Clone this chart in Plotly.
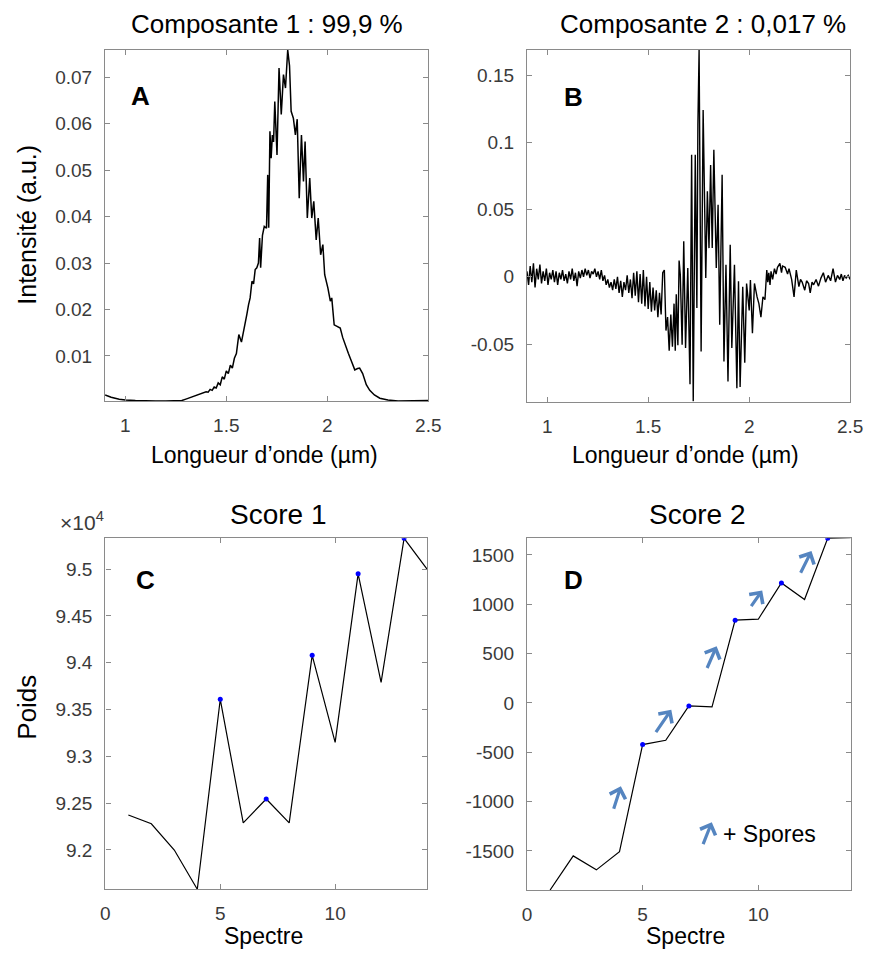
import plotly.graph_objects as go

# ---- Panel A : composante 1 (loading spectrum)
wl_a = [0.900, 0.93, 0.97, 1.00, 1.05, 1.10, 1.15, 1.20, 1.25, 1.28, 1.30, 1.33, 1.36, 1.38,
        1.40, 1.41, 1.42, 1.43, 1.44, 1.45, 1.46, 1.47, 1.48, 1.49, 1.50, 1.51, 1.52, 1.53,
        1.54, 1.55, 1.562, 1.575, 1.585, 1.594, 1.602, 1.610, 1.618, 1.627, 1.635, 1.643,
        1.651, 1.659, 1.665, 1.670, 1.679, 1.688, 1.699, 1.705, 1.710, 1.716, 1.722, 1.728,
        1.734, 1.740, 1.751, 1.761, 1.772, 1.783, 1.793, 1.804, 1.813, 1.821, 1.832, 1.842,
        1.851, 1.861, 1.872, 1.882, 1.890, 1.901, 1.913, 1.923, 1.933, 1.945, 1.955, 1.967,
        1.978, 1.987, 1.995, 2.003, 2.015, 2.022, 2.034, 2.050, 2.064, 2.076, 2.088, 2.104,
        2.12, 2.136, 2.15, 2.16, 2.175, 2.193, 2.21, 2.233, 2.26, 2.30, 2.35, 2.40, 2.45, 2.50]
comp1 = [0.0016, 0.0011, 0.0007, 0.0005, 0.0004, 0.0003, 0.0003, 0.0003, 0.0003, 0.0004, 0.0007,
         0.0012, 0.0016, 0.0019, 0.0023, 0.0022, 0.0028, 0.0026, 0.0033, 0.0031, 0.0042, 0.0038,
         0.0055, 0.0050, 0.0068, 0.0062, 0.0080, 0.0074, 0.0095, 0.0105, 0.0146, 0.0130, 0.0150,
         0.0167, 0.0190, 0.0210, 0.0225, 0.0261, 0.0255, 0.0286, 0.0290, 0.0300, 0.0354, 0.0290,
         0.0360, 0.0379, 0.0375, 0.0490, 0.0376, 0.0584, 0.0526, 0.0576, 0.0561, 0.0648, 0.0533,
         0.0720, 0.0620, 0.0706, 0.0677, 0.0759, 0.0725, 0.0627, 0.0612, 0.0576, 0.0610, 0.0440,
         0.0576, 0.0476, 0.0562, 0.0397, 0.0483, 0.0397, 0.0433, 0.0350, 0.0397, 0.0318, 0.0340,
         0.0275, 0.0262, 0.0246, 0.0218, 0.0225, 0.0167, 0.0163, 0.0160, 0.0140, 0.0124, 0.0106,
         0.0088, 0.0070, 0.0073, 0.0074, 0.0062, 0.0038, 0.0026, 0.0016, 0.0009, 0.0005, 0.0003,
         0.0003, 0.0003, 0.0004]

# ---- Panel B : composante 2
wl_b = [0.900, 0.908, 0.916, 0.924, 0.932, 0.940, 0.948, 0.956, 0.964, 0.972, 0.980, 0.988,
        0.996, 1.004, 1.012, 1.020, 1.028, 1.036, 1.044, 1.052, 1.060, 1.068, 1.076, 1.084,
        1.092, 1.100, 1.108, 1.116, 1.124, 1.132, 1.140, 1.148, 1.156, 1.164, 1.172, 1.180,
        1.188, 1.196, 1.204, 1.212, 1.220, 1.228, 1.236, 1.244, 1.252, 1.260, 1.268, 1.276,
        1.284, 1.292, 1.300, 1.308, 1.316, 1.324, 1.332, 1.340, 1.348, 1.356, 1.364, 1.372,
        1.380, 1.388, 1.396, 1.404, 1.412, 1.420, 1.428, 1.436, 1.444, 1.452, 1.460, 1.468,
        1.476, 1.484, 1.492, 1.500, 1.508, 1.516, 1.524, 1.532, 1.540, 1.548, 1.556, 1.564,
        1.572, 1.580, 1.588, 1.596, 1.604, 1.612, 1.620, 1.628, 1.634, 1.639, 1.647, 1.653,
        1.659, 1.668, 1.676, 1.685, 1.696, 1.707, 1.715, 1.723, 1.733, 1.741, 1.746, 1.752,
        1.762, 1.772, 1.785, 1.793, 1.801, 1.809, 1.817, 1.825, 1.837, 1.846, 1.854, 1.866,
        1.875, 1.885, 1.895, 1.906, 1.914, 1.927, 1.939, 1.947, 1.955, 1.968, 1.978, 1.987,
        2.000, 2.006, 2.016, 2.026, 2.039, 2.048, 2.058, 2.068, 2.078, 2.087, 2.092, 2.097,
        2.103, 2.108, 2.116, 2.125, 2.133, 2.140, 2.152, 2.160, 2.165, 2.178, 2.190, 2.197,
        2.210, 2.222, 2.233, 2.246, 2.254, 2.262, 2.275, 2.284, 2.294, 2.302, 2.311, 2.319,
        2.331, 2.343, 2.355, 2.367, 2.378, 2.391, 2.403, 2.415, 2.427, 2.437, 2.448, 2.456,
        2.464, 2.472, 2.480, 2.490, 2.500]
comp2 = [0.004, -0.006, 0.008, -0.004, 0.010, -0.008, 0.006, -0.002, 0.009, -0.005, 0.004, -0.003,
         0.006, -0.006, 0.003, -0.002, 0.005, -0.004, 0.004, -0.006, 0.003, -0.002, 0.005, -0.003,
         0.002, -0.005, 0.004, -0.002, 0.006, -0.003, 0.003, -0.007, 0.004, -0.001, 0.005, 0.000,
         0.006, 0.001, 0.005, -0.001, 0.004, 0.002, 0.006, 0.000, 0.004, -0.002, 0.005, -0.003,
         0.001, -0.006, -0.002, -0.008, -0.004, -0.010, -0.002, -0.009, 0.000, -0.012, -0.003, -0.015,
         -0.004, -0.010, 0.001, -0.012, -0.002, -0.016, 0.003, -0.014, 0.004, -0.019, 0.002, -0.020,
         0.005, -0.022, 0.000, -0.024, -0.004, -0.026, -0.008, -0.025, -0.010, -0.030, -0.012, -0.028,
         0.003, 0.005, -0.040, -0.030, -0.055, -0.028, -0.052, -0.020, -0.055, -0.013, -0.051, 0.012,
         0.0015, -0.0506, 0.0263, -0.053, 0.0065, -0.080, 0.0907, -0.0926, 0.0907, -0.0233, 0.113, 0.1687,
         -0.0555, 0.124, -0.001, 0.0635, 0.0213, 0.083, 0.0213, 0.0944, 0.0065, 0.0535, -0.0357, 0.0758,
         -0.063, 0.0089, -0.0778, 0.0238, -0.053, 0.0089, -0.0828, -0.0034, -0.082, -0.0074, -0.064, -0.005,
         -0.025, -0.0025, -0.042, -0.005, -0.015, -0.020, -0.030, -0.015, -0.017, 0.005, -0.004, 0.003,
         -0.006, 0.004, -0.002, 0.006, 0.002, 0.007, 0.010, 0.003, 0.008, 0.007, 0.002, 0.006,
         -0.002, -0.015, 0.005, -0.0074, -0.002, -0.004, -0.010, -0.003, -0.005, -0.012, -0.004, -0.006,
         -0.002, -0.007, -0.001, 0.003, -0.004, 0.001, -0.003, 0.006, -0.004, 0.001, -0.002, 0.002,
         -0.003, 0.001, -0.001, 0.001, -0.002]

# ---- Panels C / D : scores
spectre = list(range(1, 15))
score1 = [92374, 92280, 92000, 91580, 93610, 92290, 92545, 92290, 94080, 93150, 94950, 93790, 95330, 95000]
score2 = [-1896, -1550, -1692, -1507, -422, -378, -30, -40, 839, 849, 1217, 1049, 1669, 1675]
marked = [5, 7, 9, 11, 13]

# arrows in panel D (tail -> head, data coords)
arrow_tail_x = [3.73, 5.53, 7.76, 9.65, 11.8]
arrow_tail_y = [-1088, -311, 339, 966, 1304]
arrow_head_x = [4.06, 6.24, 8.20, 10.17, 12.3]
arrow_head_y = [-845, -68, 575, 1141, 1540]

# ticks
wl_ticks = [1, 1.5, 2, 2.5]
wl_ticktext = ['1', '1.5', '2', '2.5']
a_ticks = [0.01, 0.02, 0.03, 0.04, 0.05, 0.06, 0.07]
a_ticktext = ['0.01', '0.02', '0.03', '0.04', '0.05', '0.06', '0.07']
b_ticks = [-0.05, 0, 0.05, 0.1, 0.15]
b_ticktext = ['-0.05', '0', '0.05', '0.1', '0.15']
sp_ticks = [0, 5, 10]
c_ticks = [92000, 92500, 93000, 93500, 94000, 94500, 95000]
c_ticktext = ['9.2', '9.25', '9.3', '9.35', '9.4', '9.45', '9.5']
d_ticks = [-1500, -1000, -500, 0, 500, 1000, 1500]
d_ticktext = ['-1500', '-1000', '-500', '0', '500', '1000', '1500']

W, H = 880, 953
OFF = 8  # the page body adds an 8px margin, so positions are shifted back
FONT = 'Liberation Sans, Arial, sans-serif'
BOX = '#8a8a8a'
TICKC = '#3a3a3a'
ARROW = '#5585c0'


def px(x):
    return (x - OFF) / W


def py(y):
    return 1 - (y - OFF) / H


def ax_style(domain, anchor, tickvals, ticktext, rng, is_y=False):
    return dict(domain=domain, anchor=anchor, range=rng, tickvals=tickvals, ticktext=ticktext,
                showline=True, mirror='allticks', linecolor=BOX, linewidth=1.3,
                ticks='inside', ticklen=5, tickcolor=BOX, tickwidth=1,
                showgrid=False, zeroline=False, ticklabelstandoff=8 if is_y else 7,
                tickfont=dict(family=FONT, size=19, color=TICKC))


fig = go.Figure()
fig.add_trace(go.Scatter(x=wl_a, y=comp1, mode='lines', line=dict(color='black', width=1.5),
                         xaxis='x', yaxis='y'))
fig.add_trace(go.Scatter(x=wl_b, y=comp2, mode='lines', line=dict(color='black', width=1.4),
                         xaxis='x2', yaxis='y2'))
fig.add_trace(go.Scatter(x=spectre, y=score1, mode='lines', line=dict(color='black', width=1.2),
                         xaxis='x3', yaxis='y3'))
fig.add_trace(go.Scatter(x=marked, y=[score1[i - 1] for i in marked], mode='markers',
                         marker=dict(color='#0000ff', size=5), xaxis='x3', yaxis='y3'))
fig.add_trace(go.Scatter(x=spectre, y=score2, mode='lines', line=dict(color='black', width=1.2),
                         xaxis='x4', yaxis='y4'))
fig.add_trace(go.Scatter(x=marked, y=[score2[i - 1] for i in marked], mode='markers',
                         marker=dict(color='#0000ff', size=5), xaxis='x4', yaxis='y4'))

fig.update_layout(
    width=W, height=H, showlegend=False,
    margin=dict(l=0, r=0, t=0, b=0),
    paper_bgcolor='white', plot_bgcolor='white',
    font=dict(family=FONT, color='black'),
    xaxis=ax_style([px(102), px(432)], 'y', wl_ticks, wl_ticktext, [0.9, 2.5]),
    yaxis=ax_style([py(401), py(50)], 'x', a_ticks, a_ticktext, [0.0003, 0.0759], True),
    xaxis2=ax_style([px(532.7), px(862.7)], 'y2', wl_ticks, wl_ticktext, [0.9, 2.5]),
    yaxis2=ax_style([py(401.7), py(50)], 'x2', b_ticks, b_ticktext, [-0.0929, 0.1686], True),
    xaxis3=ax_style([px(102.3), px(430.7)], 'y3', sp_ticks, None, [0, 14]),
    yaxis3=ax_style([py(889.3), py(538.3)], 'x3', c_ticks, c_ticktext, [91580, 95330], True),
    xaxis4=ax_style([px(532.7), px(863.3)], 'y4', sp_ticks, None, [0, 14]),
    yaxis4=ax_style([py(890), py(538.3)], 'x4', d_ticks, d_ticktext, [-1896, 1669], True),
)

ann = []
# titles
for txt, x, y, s in [('Composante 1 : 99,9 %', 267, 24, 26), ('Composante 2 : 0,017 %', 712, 24, 26),
                     ('Score 1', 279, 514, 28), ('Score 2', 707, 514, 28)]:
    ann.append(dict(text=txt, x=px(x), y=py(y), xref='paper', yref='paper', showarrow=False,
                    xanchor='center', yanchor='middle', font=dict(size=s, color='black')))
# axis labels
for txt, x, y in [('Longueur d\u2019onde (\u00b5m)', 265, 455), ('Longueur d\u2019onde (\u00b5m)', 695, 455),
                  ('Spectre', 264, 936), ('Spectre', 695, 936)]:
    ann.append(dict(text=txt, x=px(x), y=py(y), xref='paper', yref='paper', showarrow=False,
                    xanchor='center', yanchor='middle', font=dict(size=23, color='black')))
for txt, y, s in [('Intensit\u00e9 (a.u.)', 225, 25), ('Poids', 707, 26)]:
    ann.append(dict(text=txt, x=px(22), y=py(y), xref='paper', yref='paper', showarrow=False,
                    textangle=-90, xanchor='center', yanchor='middle', font=dict(size=s, color='black')))
# exponent
ann.append(dict(text='\u00d710<sup>4</sup>', x=px(54), y=py(521), xref='paper', yref='paper',
                showarrow=False, xanchor='left', yanchor='middle', font=dict(size=21, color=TICKC)))
# panel letters
for txt, xr, yr, x, y in [('A', 'x domain', 'y domain', 0.11, 0.87), ('B', 'x2 domain', 'y2 domain', 0.143, 0.867),
                          ('C', 'x3 domain', 'y3 domain', 0.124, 0.881), ('D', 'x4 domain', 'y4 domain', 0.143, 0.881)]:
    ann.append(dict(text='<b>%s</b>' % txt, x=x, y=y, xref=xr, yref=yr, showarrow=False,
                    xanchor='center', yanchor='middle',
                    font=dict(family='Liberation Sans, Arial', size=26, color='black')))
# arrows
for tx, ty, hx, hy in zip(arrow_tail_x, arrow_tail_y, arrow_head_x, arrow_head_y):
    ann.append(dict(x=hx, y=hy, ax=tx, ay=ty, xref='x4', yref='y4', axref='x4', ayref='y4',
                    text='', showarrow=True, arrowhead=4, arrowsize=1.0, arrowwidth=3.2,
                    arrowcolor=ARROW, standoff=0))
# legend arrow + text
ann.append(dict(x=7.99, y=-1209, ax=7.59, ay=-1446, xref='x4', yref='y4', axref='x4', ayref='y4',
                text='', showarrow=True, arrowhead=4, arrowsize=1.0, arrowwidth=3.2,
                arrowcolor=ARROW, standoff=0))
ann.append(dict(text='+ Spores', x=8.41, y=-1324, xref='x4', yref='y4', showarrow=False,
                xanchor='left', yanchor='middle', font=dict(size=23, color='black')))

fig.update_layout(annotations=ann)
fig.write_html("out.html")
